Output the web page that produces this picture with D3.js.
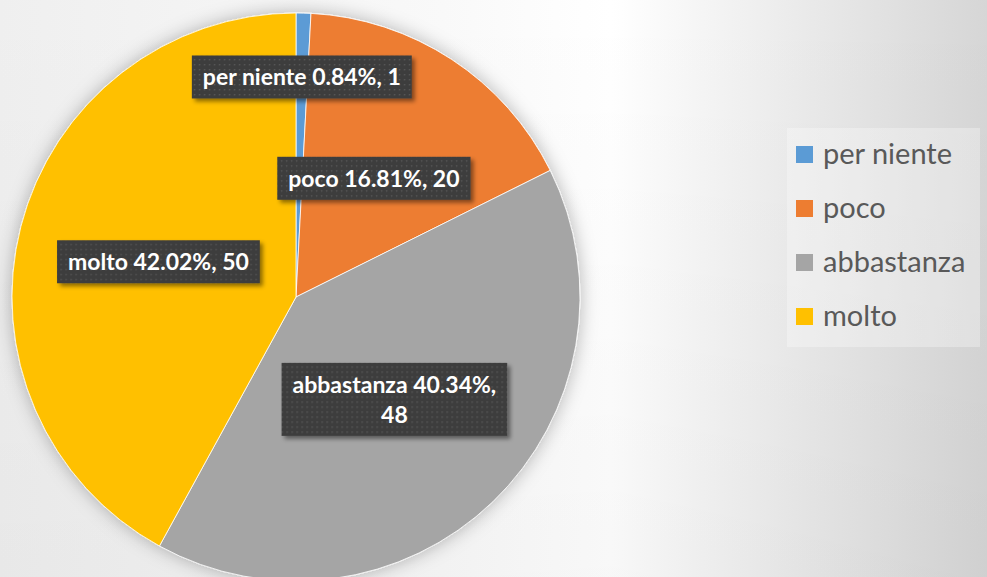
<!DOCTYPE html>
<html>
<head>
<meta charset="utf-8">
<script src="https://cdn.jsdelivr.net/npm/d3@7"></script>
<style>
  body { margin: 0; padding: 0; overflow: hidden; }
  #chart { width: 987px; height: 577px; }
</style>
</head>
<body>
<div id="chart"></div>
<script>
// dati del grafico
var categories = ["per niente", "poco", "abbastanza", "molto"];
var values = [1, 20, 48, 50];
var percents = ["0.84%", "16.81%", "40.34%", "42.02%"];
var colors = ["#5B9BD5", "#ED7D31", "#A5A5A5", "#FFC000"];

var width = 987, height = 577;
var cx = 296, cy = 297, radius = 284;

var svg = d3.select("#chart")
    .append("svg")
    .attr("width", width)
    .attr("height", height);

var defs = svg.append("defs");

// sfondo sfumato
var bg = defs.append("linearGradient")
    .attr("id", "bgGrad")
    .attr("x1", "0%").attr("y1", "0%")
    .attr("x2", "100%").attr("y2", "0%");
bg.append("stop").attr("offset", "0%").attr("stop-color", "#efefef");
bg.append("stop").attr("offset", "45%").attr("stop-color", "#f9f9f9");
bg.append("stop").attr("offset", "62%").attr("stop-color", "#ffffff");
bg.append("stop").attr("offset", "100%").attr("stop-color", "#d6d6d6");

var vg = defs.append("linearGradient")
    .attr("id", "vGrad")
    .attr("x1", "0%").attr("y1", "0%")
    .attr("x2", "0%").attr("y2", "100%");
vg.append("stop").attr("offset", "0%").attr("stop-color", "#000").attr("stop-opacity", 0);
vg.append("stop").attr("offset", "100%").attr("stop-color", "#000").attr("stop-opacity", 0.03);

// ombra della torta
var pieShadow = defs.append("filter")
    .attr("id", "pieShadow")
    .attr("x", "-20%").attr("y", "-20%")
    .attr("width", "140%").attr("height", "140%");
pieShadow.append("feDropShadow")
    .attr("dx", 0).attr("dy", 0)
    .attr("stdDeviation", 9)
    .attr("flood-color", "#000")
    .attr("flood-opacity", 0.28);

// ombra delle etichette
var lblShadow = defs.append("filter")
    .attr("id", "lblShadow")
    .attr("x", "-20%").attr("y", "-30%")
    .attr("width", "140%").attr("height", "160%");
lblShadow.append("feDropShadow")
    .attr("dx", 3).attr("dy", 3)
    .attr("stdDeviation", 2)
    .attr("flood-color", "#000")
    .attr("flood-opacity", 0.45);

// trama a puntini
var dots = defs.append("pattern")
    .attr("id", "dots")
    .attr("width", 5).attr("height", 5)
    .attr("patternUnits", "userSpaceOnUse");
dots.append("rect").attr("width", 5).attr("height", 5).attr("fill", "#3d3d3d");
dots.append("rect").attr("x", 2).attr("y", 2).attr("width", 1.4).attr("height", 1.4).attr("fill", "#575757");

svg.append("rect")
    .attr("width", width).attr("height", height)
    .attr("fill", "url(#bgGrad)");
svg.append("rect")
    .attr("width", width).attr("height", height)
    .attr("fill", "url(#vGrad)");

var pie = d3.pie()
    .sort(null)
    .value(function (d) { return d; });

var arcs = pie(values);
var total = d3.sum(values);

var arc = d3.arc()
    .innerRadius(0)
    .outerRadius(radius);

var g = svg.append("g")
    .attr("transform", "translate(" + cx + "," + cy + ")");

g.append("g")
    .attr("filter", "url(#pieShadow)")
    .selectAll("path")
    .data(arcs)
    .enter().append("path")
    .attr("d", arc)
    .attr("fill", function (d, i) { return colors[i]; })
    .style("stroke", "#ffffff")
    .style("stroke-width", 0.8);

// etichette dati
var innerLabel = d3.arc().innerRadius(radius * 0.5).outerRadius(radius * 0.5);
var outerLabel = d3.arc().innerRadius(radius * 0.775).outerRadius(radius * 0.775);

var labels = g.append("g").selectAll("g")
    .data(arcs)
    .enter().append("g")
    .attr("transform", function (d) {
        var a = (d.value / total < 0.05) ? outerLabel : innerLabel;
        var c = a.centroid(d);
        return "translate(" + c[0] + "," + c[1] + ")";
    });

labels.each(function (d, i) {
    var sel = d3.select(this);
    var full = categories[i] + " " + percents[i] + ", " + values[i];
    var lines = [full];
    var fs = 23, lh = 30, padX = 11;
    var t = sel.append("text")
        .attr("text-anchor", "middle")
        .style("font-family", "Lato, 'Open Sans', sans-serif")
        .style("font-weight", "bold")
        .style("font-size", fs + "px")
        .attr("fill", "#ffffff");
    t.text(full);
    if (t.node().getComputedTextLength() > 225) {
        lines = [categories[i] + " " + percents[i] + ",", String(values[i])];
    }
    t.text(null);
    lines.forEach(function (ln, k) {
        t.append("tspan")
            .attr("x", 0)
            .attr("y", (k - (lines.length - 1) / 2) * lh + fs * 0.36)
            .text(ln);
    });
    var bb = t.node().getBBox();
    var bh = lines.length > 1 ? 73 : 43;
    sel.insert("rect", "text")
        .attr("x", bb.x - padX)
        .attr("y", -bh / 2)
        .attr("width", bb.width + padX * 2)
        .attr("height", bh)
        .attr("fill", "url(#dots)")
        .attr("filter", "url(#lblShadow)");
});

// legenda
var legend = svg.append("g")
    .attr("transform", "translate(787,128)");
legend.append("rect")
    .attr("width", 193).attr("height", 219)
    .attr("fill", "#ffffff")
    .attr("fill-opacity", 0.3);

var y = d3.scaleBand()
    .domain(categories)
    .range([0, 216]);

var items = legend.selectAll("g.item")
    .data(categories)
    .enter().append("g")
    .attr("class", "item")
    .attr("transform", function (d) { return "translate(0," + y(d) + ")"; });

items.append("rect")
    .attr("x", 9).attr("y", 18)
    .attr("width", 17).attr("height", 17)
    .attr("fill", function (d, i) { return colors[i]; });

items.append("text")
    .attr("x", 36).attr("y", 36)
    .style("font-family", "Lato, 'Open Sans', sans-serif")
    .style("font-size", "29px")
    .attr("fill", "#595959")
    .text(function (d) { return d; });
</script>
</body>
</html>
